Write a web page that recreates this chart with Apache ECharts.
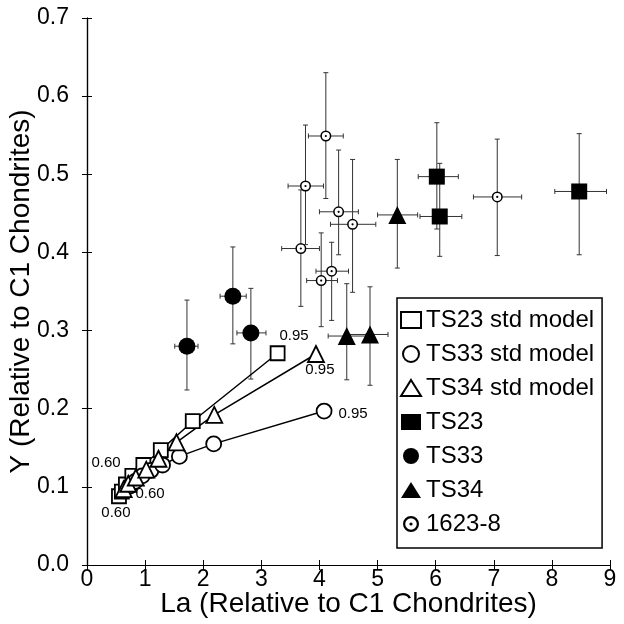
<!DOCTYPE html>
<html>
<head>
<meta charset="utf-8">
<script src="https://cdn.jsdelivr.net/npm/echarts@6/dist/echarts.min.js"></script>
<style>
html,body{margin:0;padding:0;background:#fff;}
#chart{width:624px;height:624px;}
</style>
</head>
<body>
<div id="chart"></div>
<script>
// ---- data ----
const xTicks = [0,1,2,3,4,5,6,7,8,9];
const yTicks = [0.0,0.1,0.2,0.3,0.4,0.5,0.6,0.7];

// model curves (f = 0.60 ... 0.95)
const ts23Model = [[0.55,0.088],[0.60,0.094],[0.67,0.103],[0.78,0.114],[0.97,0.128],[1.27,0.147],[1.82,0.184],[3.28,0.271]];
const ts33Model = [[0.74,0.101],[0.83,0.107],[0.95,0.114],[1.10,0.121],[1.30,0.128],[1.59,0.139],[2.18,0.155],[4.08,0.197]];
const ts34Model = [[0.63,0.097],[0.71,0.104],[0.84,0.112],[1.02,0.122],[1.23,0.136],[1.54,0.157],[2.19,0.192],[3.94,0.270]];

// measured points: [La, Y, LaLow, LaHigh, YLow, YHigh]
const ts23 = [[6.02,0.497,5.70,6.39,0.430,0.566],[6.07,0.446,5.73,6.45,0.395,0.514],[8.47,0.478,8.05,8.94,0.397,0.552]];
const ts33 = [[1.72,0.280,1.51,1.91,0.224,0.339],[2.51,0.344,2.29,2.74,0.283,0.407],[2.82,0.297,2.58,3.08,0.238,0.354]];
const ts34 = [[4.47,0.293,4.15,4.80,0.237,0.360],[4.87,0.295,4.50,5.18,0.230,0.356],[5.34,0.448,5.00,5.69,0.380,0.519]];
const s1623 = [[4.11,0.549,3.81,4.41,0.469,0.630],[3.76,0.485,3.46,4.07,0.410,0.563],[4.33,0.452,4.00,4.67,0.397,0.531],[4.57,0.436,4.19,4.97,0.349,0.519],[3.68,0.405,3.35,4.00,0.331,0.480],[4.21,0.376,3.94,4.50,0.313,0.413],[4.03,0.364,3.78,4.31,0.305,0.425],[7.06,0.471,6.65,7.48,0.396,0.545]];

const modelStartLabel = '0.60';
const modelEndLabel = '0.95';
const seriesNames = ['TS23 std model','TS33 std model','TS34 std model','TS23','TS33','TS34','1623-8'];

// ---- build ----
const FONT = 'Liberation Sans, Arial, Helvetica, sans-serif';
const ringPath = 'path://M10,0A10,10,0,1,1,-10,0A10,10,0,1,1,10,0ZM7.2,0A7.2,7.2,0,1,0,-7.2,0A7.2,7.2,0,1,0,7.2,0ZM2,0A2,2,0,1,1,-2,0A2,2,0,1,1,2,0Z';

function modelData(arr, startLbl, endLbl){
  return arr.map(function(p,i){
    const d = {value:p};
    if(i===0) d.label = Object.assign({show:true, formatter:modelStartLabel}, startLbl);
    if(i===arr.length-1) d.label = Object.assign({show:true, formatter:modelEndLabel}, endLbl);
    return d;
  });
}

const errData = [].concat(ts23, ts33, ts34, s1623);
const lblStyle = {fontSize:15, color:'#000', fontFamily:FONT};

const openItem = {color:'#fff', borderColor:'#000', borderWidth:1.8, opacity:1};
const solid = {color:'#000', opacity:1};
const option = {
  animation:false,
  backgroundColor:'#fff',
  grid:{left:87, right:14, top:18, bottom:59, show:false, containLabel:false, outerBoundsMode:'none'},
  xAxis:[{
    type:'value', min:0, max:9, interval:1, position:'bottom',
    name:'La (Relative to C1 Chondrites)', nameLocation:'middle', nameGap:25, nameMoveOverlap:false,
    nameTextStyle:{fontSize:28, color:'#000', fontFamily:FONT, verticalAlign:'top'},
    axisLine:{show:true, lineStyle:{color:'#000', width:1.2}},
    axisTick:{show:true, inside:true, length:5, lineStyle:{color:'#000'}},
    axisLabel:{show:true, color:'#000', fontSize:23, fontFamily:FONT, margin:3,
      formatter:function(v){ return xTicks.indexOf(v)>=0 ? String(v) : ''; }},
    splitLine:{show:false}
  },{
    type:'value', min:0, max:9, interval:1, position:'top',
    axisLine:{show:true, lineStyle:{color:'#000', width:1.2}},
    axisTick:{show:true, inside:true, length:5, lineStyle:{color:'#000'}},
    axisLabel:{show:false}, splitLine:{show:false}
  }],
  yAxis:[{
    type:'value', min:0, max:0.7, interval:0.1, position:'left',
    name:'Y (Relative to C1 Chondrites)', nameLocation:'middle', nameGap:52, nameRotate:90, nameMoveOverlap:false,
    nameTextStyle:{fontSize:28, color:'#000', fontFamily:FONT},
    axisLine:{show:true, lineStyle:{color:'#000', width:1.2}},
    axisTick:{show:true, inside:true, length:5, lineStyle:{color:'#000'}},
    axisLabel:{show:true, color:'#000', fontSize:23, fontFamily:FONT, margin:18,
      formatter:function(v){ return v.toFixed(1); }},
    splitLine:{show:false}
  },{
    type:'value', min:0, max:0.7, interval:0.1, position:'right',
    axisLine:{show:true, lineStyle:{color:'#000', width:1.2}},
    axisTick:{show:true, inside:true, length:5, lineStyle:{color:'#000'}},
    axisLabel:{show:false}, splitLine:{show:false}
  }],
  legend:{
    orient:'vertical', left:397, top:298,
    padding:[10,8,12,3], itemGap:10, itemWidth:20, itemHeight:16,
    backgroundColor:'#fff', borderColor:'#000', borderWidth:1.5, borderRadius:0,
    textStyle:{fontSize:24, color:'#000', fontFamily:FONT},
    data:[
      {name:seriesNames[0], icon:'rect', itemStyle:{color:'#fff', borderColor:'#000', borderWidth:2}},
      {name:seriesNames[1], icon:'circle', itemStyle:{color:'#fff', borderColor:'#000', borderWidth:2}},
      {name:seriesNames[2], icon:'triangle', itemStyle:{color:'#fff', borderColor:'#000', borderWidth:2}},
      {name:seriesNames[3], icon:'rect', itemStyle:{color:'#000', borderWidth:0}},
      {name:seriesNames[4], icon:'circle', itemStyle:{color:'#000', borderWidth:0}},
      {name:seriesNames[5], icon:'triangle', itemStyle:{color:'#000', borderWidth:0}},
      {name:seriesNames[6], icon:ringPath, itemStyle:{color:'#000', borderWidth:0}}
    ]
  },
  series:[
    {
      name:'errors', type:'custom', z:1, silent:true,
      data:errData,
      encode:{x:0, y:1},
      renderItem:function(params, api){
        const x=api.value(0), y=api.value(1);
        const xl=api.value(2), xh=api.value(3), yl=api.value(4), yh=api.value(5);
        const c=api.coord([x,y]);
        const a=api.coord([xl,y]), b=api.coord([xh,y]);
        const lo=api.coord([x,yl]), hi=api.coord([x,yh]);
        const st={stroke:'#333', lineWidth:1};
        const cap=2.5;
        return {type:'group', children:[
          {type:'line', shape:{x1:a[0],y1:c[1],x2:b[0],y2:c[1]}, style:st},
          {type:'line', shape:{x1:c[0],y1:lo[1],x2:c[0],y2:hi[1]}, style:st},
          {type:'line', shape:{x1:a[0],y1:c[1]-cap,x2:a[0],y2:c[1]+cap}, style:st},
          {type:'line', shape:{x1:b[0],y1:c[1]-cap,x2:b[0],y2:c[1]+cap}, style:st},
          {type:'line', shape:{x1:c[0]-cap,y1:lo[1],x2:c[0]+cap,y2:lo[1]}, style:st},
          {type:'line', shape:{x1:c[0]-cap,y1:hi[1],x2:c[0]+cap,y2:hi[1]}, style:st}
        ]};
      }
    },
    {
      name:seriesNames[0], type:'line', z:4, symbol:'rect', symbolSize:14,
      itemStyle:openItem, lineStyle:{color:'#000', width:1.5},
      label:lblStyle,
      data:modelData(ts23Model,
        Object.assign({position:'bottom', distance:1, offset:[-3,0]}, lblStyle),
        Object.assign({position:'right', distance:0, offset:[-6,-17]}, lblStyle))
    },
    {
      name:seriesNames[1], type:'line', z:4, symbol:'circle', symbolSize:15,
      itemStyle:openItem, lineStyle:{color:'#000', width:1.5},
      label:lblStyle,
      data:modelData(ts33Model,
        Object.assign({position:'right', distance:0, offset:[-3,8]}, lblStyle),
        Object.assign({position:'right', distance:6, offset:[0,3]}, lblStyle))
    },
    {
      name:seriesNames[2], type:'line', z:4, symbol:'triangle', symbolSize:16,
      itemStyle:openItem, lineStyle:{color:'#000', width:1.5},
      label:lblStyle,
      data:modelData(ts34Model,
        Object.assign({position:'left', distance:5, offset:[11,-26]}, lblStyle),
        Object.assign({position:'bottom', distance:0, offset:[4,-1]}, lblStyle))
    },
    {
      name:seriesNames[3], type:'scatter', z:3, symbol:'rect', symbolSize:16,
      itemStyle:solid, data:ts23.map(function(p){return [p[0],p[1]];})
    },
    {
      name:seriesNames[4], type:'scatter', z:3, symbol:'circle', symbolSize:17,
      itemStyle:solid, data:ts33.map(function(p){return [p[0],p[1]];})
    },
    {
      name:seriesNames[5], type:'scatter', z:3, symbol:'triangle', symbolSize:18,
      itemStyle:solid, data:ts34.map(function(p){return [p[0],p[1]];})
    },
    {
      name:'1623-8-bg', type:'scatter', z:2, symbol:'circle', symbolSize:10, silent:true,
      itemStyle:{color:'#fff', opacity:1}, data:s1623.map(function(p){return [p[0],p[1]];})
    },
    {
      name:seriesNames[6], type:'scatter', z:3, symbol:ringPath, symbolSize:11,
      itemStyle:{color:'#000', borderWidth:0, opacity:1}, data:s1623.map(function(p){return [p[0],p[1]];})
    }
  ]
};

const chart = echarts.init(document.getElementById('chart'), null, {renderer:'canvas'});
chart.setOption(option);
</script>
</body>
</html>
